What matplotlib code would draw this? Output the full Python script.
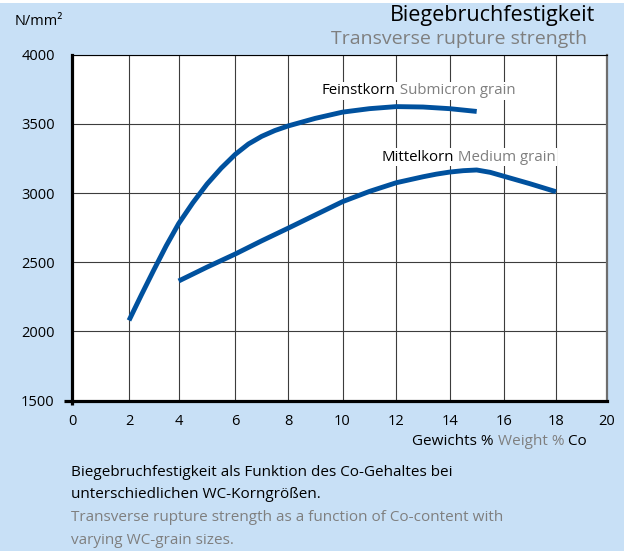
import numpy as np
import matplotlib
matplotlib.use("Agg")
import matplotlib.pyplot as plt

plt.rcParams["font.family"] = ["Open Sans", "DejaVu Sans"]

# ---- data -------------------------------------------------------------
co_fine = [2, 2.5, 3, 3.5, 4, 4.5, 5, 5.5, 6, 6.5, 7, 7.5, 8, 9, 10, 11,
           12, 13, 14, 15]
trs_fine = [2080, 2265, 2445, 2620, 2780, 2930, 3065, 3180, 3280, 3355,
            3410, 3452, 3485, 3540, 3585, 3610, 3625, 3622, 3610, 3590]

co_medium = [4, 5, 6, 7, 8, 9, 10, 11, 12, 13, 13.5, 14, 14.5, 15, 15.5,
             16, 17, 18]
trs_medium = [2365, 2465, 2560, 2655, 2746, 2842, 2938, 3012, 3075, 3118,
              3137, 3152, 3162, 3167, 3150, 3122, 3068, 3010]

x_ticks = [0, 2, 4, 6, 8, 10, 12, 14, 16, 18, 20]
y_ticks = [1500, 2000, 2500, 3000, 3500, 4000]

# ---- style ------------------------------------------------------------
BG = "#C8E0F6"
BLUE = "#00519E"
GREY = "#7F7F7F"
W, H = 624, 551

# the printed x axis is slightly irregular: breakpoints of a piecewise scale
scale_vals = np.array([-100, 0, 2, 4, 6, 8, 10, 12, 14, 16, 18, 20, 120], float)
scale_pos = np.array([-2673, 0, 57, 106.7, 163.3, 216, 270.5, 324.3, 377.7,
                      431.7, 484, 534.7, 3070], float)


def fwd(v):
    return np.interp(v, scale_vals, scale_pos)


def inv(p):
    return np.interp(p, scale_pos, scale_vals)


def fpos(px, py):
    return px / W, 1 - py / H


fig = plt.figure(figsize=(W / 100, H / 100), dpi=100, facecolor=BG)
# thin white strip along the top edge
fig.patches.append(plt.Rectangle((0, 1 - 3 / H), 1, 3 / H, transform=fig.transFigure,
                                 facecolor="white", edgecolor="none", zorder=0))

ax = fig.add_axes([72 / W, 1 - 400.7 / H, (606.7 - 72) / W, (400.7 - 54.7) / H])
ax.set_facecolor("white")
ax.set_xscale("function", functions=(fwd, inv))
ax.set_xlim(0, 20)
ax.set_ylim(1500, 4000)
ax.set_xticks(x_ticks)
ax.set_yticks(y_ticks)
ax.set_xticklabels([str(v) for v in x_ticks])
ax.set_yticklabels([str(v) for v in y_ticks])
ax.minorticks_off()
ax.tick_params(axis="both", length=0, labelsize=10.5, colors="black")
ax.tick_params(axis="y", pad=12.5)
ax.tick_params(axis="x", pad=9.5)
ax.grid(True, color="#3c3c3c", linewidth=0.8)
ax.set_axisbelow(True)

for side in ("left", "bottom"):
    ax.spines[side].set_linewidth(2.3)
    ax.spines[side].set_color("black")
ax.spines["top"].set_linewidth(0.8)
ax.spines["top"].set_color("black")
ax.spines["right"].set_linewidth(1.6)
ax.spines["right"].set_color("#6e6e6e")

# corner cross at the origin
ax.plot([-0.015, 0], [0, 0], transform=ax.transAxes, color="black", lw=2.3,
        clip_on=False, solid_capstyle="butt")
ax.plot([0, 0], [0, -0.012], transform=ax.transAxes, color="black", lw=2.3,
        clip_on=False, solid_capstyle="butt")

# curves
ax.plot(co_fine, trs_fine, color=BLUE, lw=3.5, solid_capstyle="butt",
        solid_joinstyle="round", zorder=4)
ax.plot(co_medium, trs_medium, color=BLUE, lw=3.5, solid_capstyle="butt",
        solid_joinstyle="round", zorder=4)

box = dict(facecolor="white", edgecolor="none", pad=1.0)
t1 = ax.text(9.24, 3714, "Feinstkorn", fontsize=10.8, va="baseline", ha="left",
             color="black", bbox=box, zorder=3)
ax.annotate(" Submicron grain", xy=(1, 0), xycoords=t1, va="bottom", ha="left",
            fontsize=10.8, color=GREY, bbox=box, zorder=3)
t2 = ax.text(11.46, 3234, "Mittelkorn", fontsize=10.8, va="baseline", ha="left",
             color="black", bbox=box, zorder=3)
ax.annotate(" Medium grain", xy=(1, 0), xycoords=t2, va="bottom", ha="left",
            fontsize=10.8, color=GREY, bbox=box, zorder=3)

# unit and titles
fig.text(*fpos(15, 25), "N/mm²", fontsize=10.5, ha="left", va="baseline")
fig.text(*fpos(595, 21), "Biegebruchfestigkeit", fontsize=15.5, ha="right",
         va="baseline")
fig.text(*fpos(587, 44), "Transverse rupture strength", fontsize=14, ha="right",
         va="baseline", color=GREY)

# x axis title in three colours
g1 = fig.text(*fpos(412, 445), "Gewichts %", fontsize=11, ha="left",
              va="baseline")
g2 = plt.annotate(" Weight %", xy=(1, 0), xycoords=g1, va="bottom", ha="left",
                  fontsize=11, color=GREY, annotation_clip=False)
plt.annotate(" Co", xy=(1, 0), xycoords=g2, va="bottom", ha="left",
             fontsize=11, color="black", annotation_clip=False)

# caption
caption = [
    ("Biegebruchfestigkeit als Funktion des Co-Gehaltes bei", "black"),
    ("unterschiedlichen WC-Korngrößen.", "black"),
    ("Transverse rupture strength as a function of Co-content with", GREY),
    ("varying WC-grain sizes.", GREY),
]
for i, (line, col) in enumerate(caption):
    fig.text(*fpos(71, 476 + i * 22.5), line, fontsize=11, ha="left",
             va="baseline", color=col)

fig.savefig("out.png", dpi=100, facecolor=BG)
